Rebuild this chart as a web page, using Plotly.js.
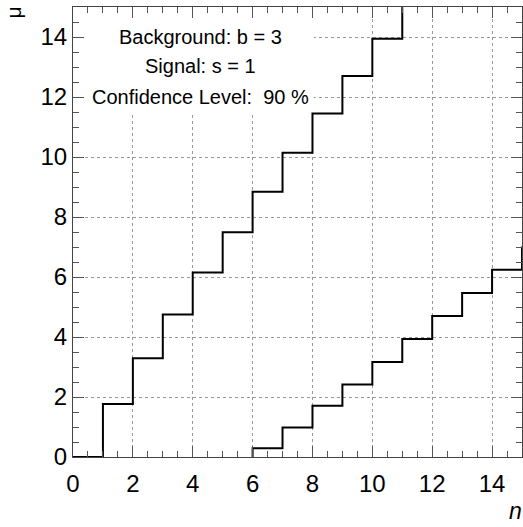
<!DOCTYPE html>
<html>
<head>
<meta charset="utf-8">
<script src="https://cdn.plot.ly/plotly-3.0.1.min.js"></script>
<style>html,body{margin:0;padding:0;background:#fff;}#plot{width:523px;height:527px;}</style>
</head>
<body>
<div id="plot"></div>
<script>
// Upper belt edge: mu value on each bin [n, n+1)
const nUpper = [0, 1, 2, 3, 4, 5, 6, 7, 8, 9, 10, 11];
const muUpper = [0, 1.77, 3.29, 4.75, 6.15, 7.49, 8.84, 10.14, 11.45, 12.70, 13.94, 16];
// Lower belt edge
const nLower = [6, 6, 7, 8, 9, 10, 11, 12, 13, 14, 15];
const muLower = [0, 0.29, 0.98, 1.71, 2.42, 3.17, 3.93, 4.70, 5.47, 6.24, 7.02];
const tickVals = [0, 2, 4, 6, 8, 10, 12, 14];
const infoLines = ["Background: b = 3", "Signal: s = 1", "Confidence Level:  90 %"];

const FONT = "Liberation Sans, Arial, sans-serif";
const lineStyle = {color: "#000", width: 2, shape: "hv"};

const traces = [
  {x: nUpper, y: muUpper, type: "scatter", mode: "lines", line: lineStyle, hoverinfo: "skip"},
  {x: nLower, y: muLower, type: "scatter", mode: "lines", line: lineStyle, hoverinfo: "skip"}
];

const axisCommon = {
  range: [0, 15],
  tickvals: tickVals,
  ticktext: tickVals.map(String),
  ticks: "inside",
  ticklen: 11,
  tickwidth: 1,
  tickcolor: "#555",
  showline: true,
  linecolor: "#444",
  linewidth: 1,
  mirror: "ticks",
  showgrid: true,
  gridcolor: "#999",
  griddash: "dot",
  gridwidth: 1,
  zeroline: false,
  tickfont: {family: FONT, size: 24, color: "#000"},
  minor: {dtick: 0.5, ticks: "inside", ticklen: 6, tickcolor: "#555", showgrid: false}
};

const annotations = infoLines.map((t, i) => ({
  text: t, xref: "paper", yref: "paper", x: 0.283, y: [0.934, 0.868, 0.801][i],
  xanchor: "center", yanchor: "middle", showarrow: false,
  font: {family: FONT, size: 20, color: "#000"}
}));
annotations.push({
  text: "μ", xref: "paper", yref: "paper", x: -0.132, y: 1.005, xanchor: "center", yanchor: "top",
  textangle: -90, showarrow: false, font: {family: FONT, size: 21, color: "#000"}
});
annotations.push({
  text: "<i>n</i>", xref: "paper", yref: "paper", x: 0.985, y: -0.121, xanchor: "center", yanchor: "middle",
  showarrow: false, font: {family: FONT, size: 23, color: "#000"}
});

const layout = {
  width: 523, height: 527,
  margin: {l: 73, r: 1, t: 7, b: 70},
  paper_bgcolor: "#fff", plot_bgcolor: "#fff",
  showlegend: false,
  xaxis: Object.assign({}, axisCommon, {ticklabelstandoff: 5}),
  yaxis: Object.assign({}, axisCommon, {ticklabelstandoff: 0}),
  shapes: [{type: "rect", xref: "x", yref: "y", x0: 0.02, x1: 8.05, y0: 11.4, y1: 14.98,
            fillcolor: "#fff", line: {width: 0}, layer: "between"}],
  annotations: annotations
};

Plotly.newPlot("plot", traces, layout, {staticPlot: true, displayModeBar: false});
</script>
</body>
</html>
